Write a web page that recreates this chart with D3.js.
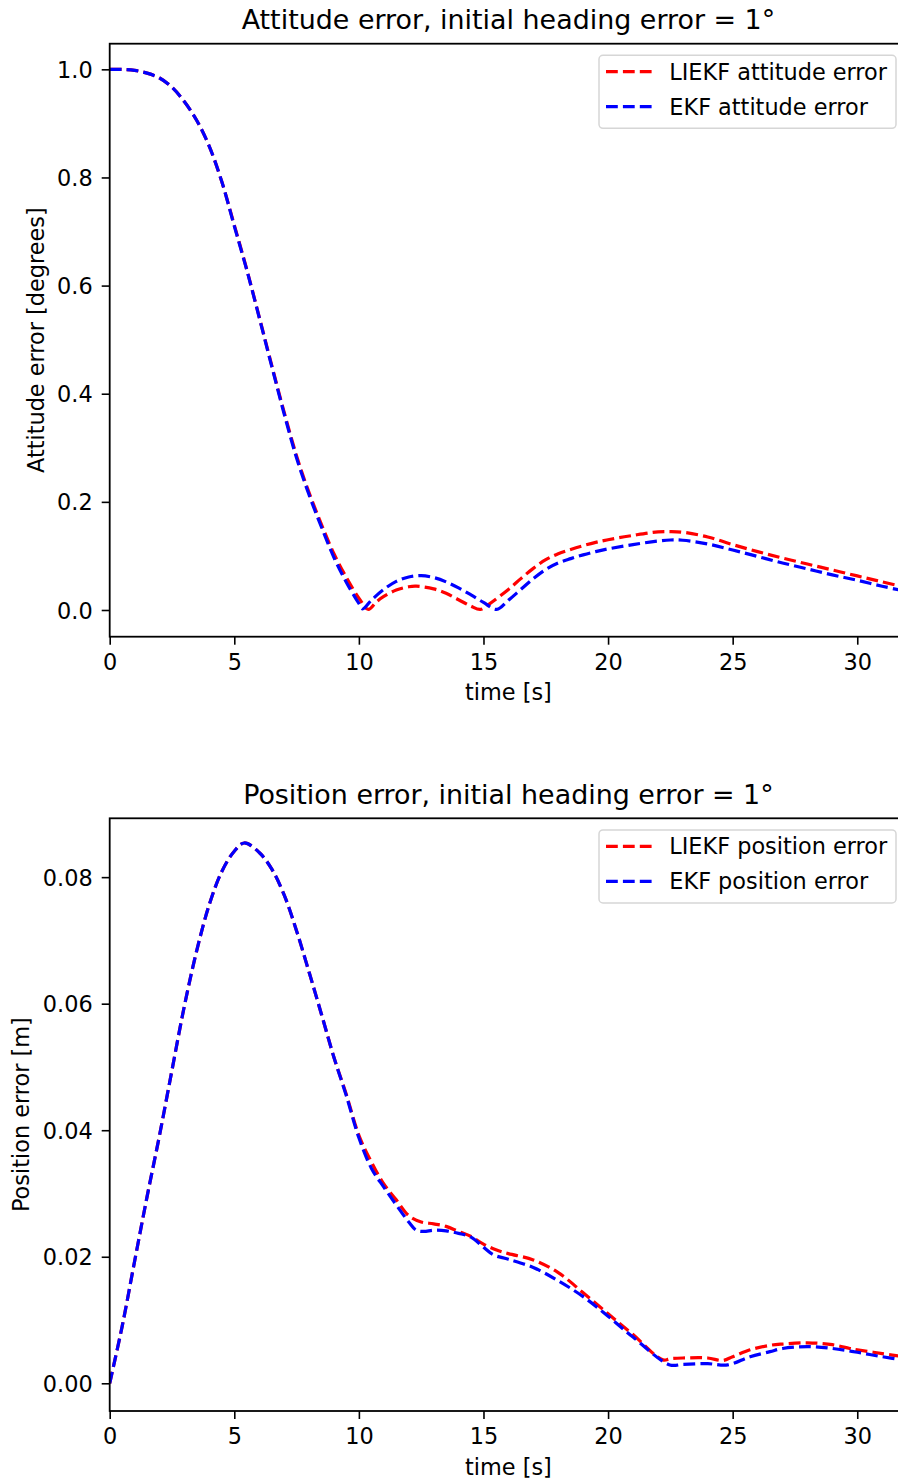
<!DOCTYPE html>
<html>
<head>
<meta charset="utf-8">
<script src="https://cdn.jsdelivr.net/npm/d3@7"></script>
<style>
  html, body { margin: 0; padding: 0; background: #fff; }
  svg { display: block; font-family: "DejaVu Sans", sans-serif; }
</style>
</head>
<body>
<svg id="fig" width="898" height="1484"></svg>
<script>
// ---- Attitude error [degrees] ----
const attTimeLiekf = [0, 0.5, 1, 1.5, 2, 2.5, 3, 3.5, 4, 4.5, 5, 5.5, 6, 6.5, 7, 7.5, 8, 8.5, 9, 9.5, 10, 10.38,
  10.7, 11, 11.5, 12, 12.3, 13, 13.5, 14, 14.5, 14.87, 15.2, 16, 16.5, 17, 17.5, 18, 18.5, 19, 19.5, 20, 21, 22, 22.5, 23, 24, 25, 26, 27, 28, 29, 30, 31, 32];
const attLiekf = [1.0, 0.9997, 0.998, 0.993, 0.984, 0.967, 0.94, 0.905, 0.857, 0.792, 0.712, 0.63, 0.542, 0.453, 0.366, 0.285, 0.217, 0.158, 0.104, 0.06, 0.022, 0.001,
  0.015, 0.025, 0.037, 0.043, 0.044, 0.039, 0.031, 0.019, 0.007, 0.001, 0.01, 0.038, 0.058, 0.077, 0.093, 0.104, 0.112, 0.119, 0.125, 0.13, 0.138, 0.1445, 0.145, 0.1438, 0.135, 0.121, 0.108, 0.096, 0.085, 0.074, 0.063, 0.052, 0.041];

const attTimeEkf = [0, 0.5, 1, 1.5, 2, 2.5, 3, 3.5, 4, 4.5, 5, 5.5, 6, 6.5, 7, 7.5, 8, 8.5, 9, 9.5, 10, 10.15,
  10.5, 11, 11.5, 12, 12.5, 13, 13.5, 14, 14.5, 15, 15.53, 16, 16.5, 17, 17.5, 18, 18.5, 19, 19.5, 20, 21, 22, 22.5, 23, 24, 25, 26, 27, 28, 29, 30, 31, 32];
const attEkf = [1.0, 0.9997, 0.998, 0.993, 0.984, 0.967, 0.94, 0.905, 0.857, 0.792, 0.71, 0.629, 0.541, 0.451, 0.363, 0.281, 0.213, 0.153, 0.097, 0.051, 0.012, 0.002,
  0.018, 0.038, 0.053, 0.061, 0.0635, 0.06, 0.052, 0.041, 0.028, 0.014, 0.001, 0.018, 0.038, 0.058, 0.075, 0.087, 0.095, 0.102, 0.108, 0.113, 0.121, 0.1275, 0.1295, 0.129, 0.122, 0.111, 0.099, 0.087, 0.076, 0.065, 0.055, 0.044, 0.034];

// ---- Position error [m] ----
const posTimeLiekf = [0, 0.5, 1, 1.5, 2, 2.5, 3, 3.5, 4, 4.5, 5, 5.4, 6, 6.5, 7, 7.5, 8, 8.5, 9, 9.5, 10, 10.5,
  11, 11.5, 12, 12.5, 13, 13.5, 14, 14.5, 15, 15.5, 16, 17, 18, 19, 20, 21, 22.2, 22.5, 23, 24, 24.6, 25, 25.7, 26.5, 27, 28, 29, 29.7, 30, 31, 32];
const posLiekf = [0, 0.009, 0.0193, 0.0295, 0.0392, 0.0495, 0.0597, 0.0685, 0.0757, 0.0809, 0.0841, 0.0854, 0.0839, 0.0813, 0.0772, 0.0715, 0.065, 0.0583, 0.0515, 0.0456, 0.0392, 0.035,
  0.0315, 0.029, 0.0265, 0.0255, 0.0252, 0.0248, 0.024, 0.0232, 0.022, 0.0211, 0.0205, 0.0195, 0.0175, 0.0143, 0.011, 0.0077, 0.0037, 0.0039, 0.004, 0.004, 0.0036, 0.0042, 0.0053, 0.006, 0.0062, 0.0064, 0.0061, 0.0055, 0.0053, 0.0047, 0.0041];

const posTimeEkf = [0, 0.5, 1, 1.5, 2, 2.5, 3, 3.5, 4, 4.5, 5, 5.4, 6, 6.5, 7, 7.5, 8, 8.5, 9, 9.5, 10, 10.5,
  11, 11.5, 12, 12.3, 12.6, 13, 13.5, 14, 14.5, 15, 15.4, 16, 17, 18, 19, 20, 21, 22.48, 23, 24, 24.8, 25.7, 26.5, 27, 28, 29, 30, 31, 32];
const posEkf = [0, 0.009, 0.0193, 0.0295, 0.0392, 0.0495, 0.0597, 0.0685, 0.0757, 0.0809, 0.0841, 0.0854, 0.0839, 0.0813, 0.0772, 0.0715, 0.065, 0.0583, 0.0515, 0.0454, 0.0388, 0.034,
  0.031, 0.0282, 0.0255, 0.0242, 0.024, 0.0242, 0.0241, 0.0237, 0.0231, 0.0215, 0.0203, 0.0196, 0.0183, 0.0162, 0.0137, 0.0106, 0.0073, 0.0029, 0.003, 0.0031, 0.0029, 0.0042, 0.005, 0.0055, 0.0058, 0.0055, 0.0049, 0.0042, 0.0036];

const xTicks = [0, 5, 10, 15, 20, 25, 30];
const attYTicks = [0.0, 0.2, 0.4, 0.6, 0.8, 1.0];
const posYTicks = [0.00, 0.02, 0.04, 0.06, 0.08];

const panels = [
  {
    title: "Attitude error, initial heading error = 1°",
    yLabel: "Attitude error [degrees]",
    yLabelX: 36.5,
    yDomain: [-0.0494, 1.0474],
    yTicks: attYTicks, yFormat: d3.format(".1f"),
    top: 43.7, bottom: 636.7,
    series: [
      { name: "LIEKF attitude error", color: "#ff0000", t: attTimeLiekf, v: attLiekf },
      { name: "EKF attitude error", color: "#0000ff", t: attTimeEkf, v: attEkf }
    ]
  },
  {
    title: "Position error, initial heading error = 1°",
    yLabel: "Position error [m]",
    yLabelX: 21,
    yDomain: [-0.00438, 0.0893],
    yTicks: posYTicks, yFormat: d3.format(".2f"),
    top: 818.3, bottom: 1411,
    series: [
      { name: "LIEKF position error", color: "#ff0000", t: posTimeLiekf, v: posLiekf },
      { name: "EKF position error", color: "#0000ff", t: posTimeEkf, v: posEkf }
    ]
  }
];

const svg = d3.select("#fig");
const left = 109.7, right = 907.1;
const tickFont = 22.4, titleFont = 26.9;
const lineW = 3.2, dash = "11.8,5.1";

panels.forEach((p, i) => {
  const x = d3.scaleLinear().domain([0, 32]).range([left, right]);
  const y = d3.scaleLinear().domain(p.yDomain).range([p.bottom, p.top]);
  const g = svg.append("g");

  g.append("clipPath").attr("id", "clip" + i)
    .append("rect").attr("x", left).attr("y", p.top)
    .attr("width", right - left).attr("height", p.bottom - p.top);

  const line = d3.line()
    .x((d) => x(d[0])).y((d) => y(d[1]))
    .curve(d3.curveCatmullRom.alpha(0.5));

  p.series.forEach((s) => {
    g.append("path")
      .datum(s.t.map((t, k) => [t, s.v[k]]))
      .attr("clip-path", `url(#clip${i})`)
      .attr("fill", "none")
      .attr("stroke", s.color)
      .attr("stroke-width", lineW)
      .attr("stroke-dasharray", dash)
      .attr("d", line);
  });

  // axes
  const xAxis = d3.axisBottom(x).tickValues(xTicks).tickSize(8).tickPadding(9);
  const yAxis = d3.axisLeft(y).tickValues(p.yTicks).tickFormat(p.yFormat).tickSize(8).tickPadding(9);

  const gx = g.append("g").attr("transform", `translate(0,${p.bottom})`).call(xAxis);
  const gy = g.append("g").attr("transform", `translate(${left},0)`).call(yAxis);
  [gx, gy].forEach((ax) => {
    ax.select(".domain").remove();
    ax.selectAll("line").attr("stroke", "#000").attr("stroke-width", 1.6);
    ax.selectAll("text").attr("font-size", tickFont).attr("fill", "#000")
      .attr("font-family", "DejaVu Sans");
  });
  gy.selectAll("text").attr("dy", "0.36em");

  // spines
  g.append("rect")
    .attr("x", left).attr("y", p.top)
    .attr("width", right - left).attr("height", p.bottom - p.top)
    .attr("fill", "none").attr("stroke", "#000").attr("stroke-width", 1.8);

  // titles and labels
  g.append("text")
    .attr("x", (left + right) / 2).attr("y", p.top - 14.6)
    .attr("text-anchor", "middle").attr("font-size", titleFont).attr("fill", "#000")
    .text(p.title);
  g.append("text")
    .attr("x", (left + right) / 2).attr("y", p.bottom + 63.5)
    .attr("text-anchor", "middle").attr("font-size", tickFont).attr("fill", "#000")
    .text("time [s]");
  g.append("text")
    .attr("transform", `translate(${p.yLabelX},${(p.top + p.bottom) / 2}) rotate(-90)`)
    .attr("text-anchor", "middle").attr("dy", "0.35em")
    .attr("font-size", tickFont).attr("fill", "#000")
    .text(p.yLabel);

  // legend
  const lg = g.append("g").attr("transform", `translate(599,${p.top + 11.6})`);
  lg.append("rect")
    .attr("x", 0).attr("y", 0).attr("width", 297).attr("height", 73)
    .attr("rx", 4).attr("fill", "#fff").attr("fill-opacity", 0.8)
    .attr("stroke", "#d6d6d6").attr("stroke-width", 1.5);
  p.series.forEach((s, k) => {
    const cy = 16.4 + k * 35;
    lg.append("line")
      .attr("x1", 7).attr("x2", 52.7).attr("y1", cy).attr("y2", cy)
      .attr("stroke", s.color).attr("stroke-width", lineW)
      .attr("stroke-dasharray", dash);
    lg.append("text")
      .attr("x", 70.3).attr("y", cy).attr("dy", "0.36em")
      .attr("font-size", tickFont).attr("fill", "#000")
      .text(s.name);
  });
});
</script>
</body>
</html>
